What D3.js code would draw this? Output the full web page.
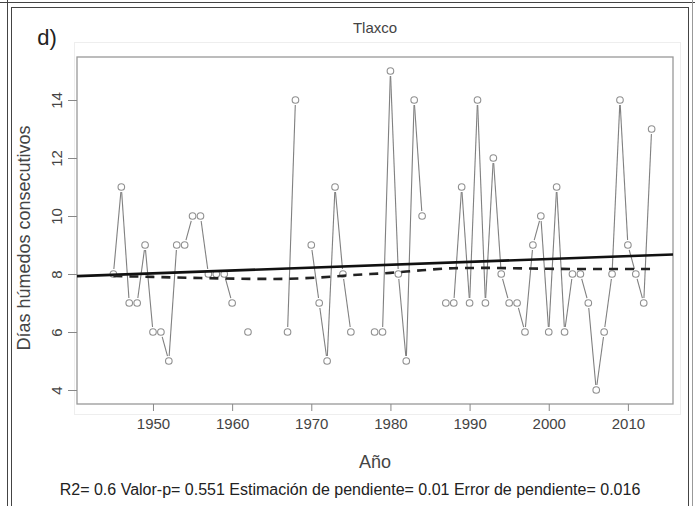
<!DOCTYPE html>
<html>
<head>
<meta charset="utf-8">
<script src="https://cdn.jsdelivr.net/npm/d3@7"></script>
<style>
  body { margin: 0; background: #fff; }
  svg { display: block; font-family: "Liberation Sans", Arial, sans-serif; }
</style>
</head>
<body>
<div id="chart"></div>
<script>
// Tlaxco - dias humedos consecutivos por anio (null = sin dato)
var years = [1945, 1946, 1947, 1948, 1949, 1950, 1951, 1952, 1953, 1954,
             1955, 1956, 1957, 1958, 1959, 1960, 1961, 1962, 1963, 1964,
             1965, 1966, 1967, 1968, 1969, 1970, 1971, 1972, 1973, 1974,
             1975, 1976, 1977, 1978, 1979, 1980, 1981, 1982, 1983, 1984,
             1985, 1986, 1987, 1988, 1989, 1990, 1991, 1992, 1993, 1994,
             1995, 1996, 1997, 1998, 1999, 2000, 2001, 2002, 2003, 2004,
             2005, 2006, 2007, 2008, 2009, 2010, 2011, 2012, 2013];
var dias = [8, 11, 7, 7, 9, 6, 6, 5, 9, 9,
            10, 10, 8, 8, 8, 7, null, 6, null, null,
            null, null, 6, 14, null, 9, 7, 5, 11, 8,
            6, null, null, 6, 6, 15, 8, 5, 14, 10,
            null, null, 7, 7, 11, 7, 14, 7, 12, 8,
            7, 7, 6, 9, 10, 6, 11, 6, 8, 8,
            7, 4, 6, 8, 14, 9, 8, 7, 13];

// suavizado (linea discontinua)
var suaveYears = [1945, 1950, 1956, 1965, 1971, 1975, 1980, 1984, 1988, 1992, 2000, 2006, 2013];
var suaveVals  = [7.93, 7.90, 7.86, 7.83, 7.88, 7.96, 8.04, 8.13, 8.20, 8.21, 8.18, 8.17, 8.17];

var xTicks = [1950, 1960, 1970, 1980, 1990, 2000, 2010];
var yTicks = [4, 6, 8, 10, 12, 14];

var titulo = "Tlaxco";
var etiqueta = "d)";
var xLabel = "A\u00f1o";
var yLabel = "D\u00edas h\u00famedos consecutivos";
var stats = "R2= 0.6 Valor-p= 0.551 Estimaci\u00f3n de pendiente= 0.01 Error de pendiente= 0.016";

var W = 695, H = 506;
var box = {left: 77, right: 673, top: 57, bottom: 404};

var svg = d3.select("#chart").append("svg")
    .attr("width", W)
    .attr("height", H);

svg.append("rect").attr("width", W).attr("height", H).attr("fill", "#fff");

// table cell borders
var bc = "#444";
svg.append("line").attr("x1", 0).attr("x2", W).attr("y1", 2.5).attr("y2", 2.5).attr("stroke", bc);
svg.append("line").attr("x1", 11).attr("x2", 689).attr("y1", 7.5).attr("y2", 7.5).attr("stroke", bc);
svg.append("line").attr("x1", 7.5).attr("x2", 7.5).attr("y1", 0).attr("y2", H).attr("stroke", bc);
svg.append("line").attr("x1", 11.5).attr("x2", 11.5).attr("y1", 7).attr("y2", H).attr("stroke", bc);
svg.append("line").attr("x1", 688.5).attr("x2", 688.5).attr("y1", 7).attr("y2", H).attr("stroke", bc);
svg.append("line").attr("x1", 692.5).attr("x2", 692.5).attr("y1", 0).attr("y2", H).attr("stroke", "#999");

var x = d3.scaleLinear().domain([1940.4, 2015.7]).range([box.left, box.right]);
var y = d3.scaleLinear().domain([4, 14]).range([390, 100]);

var data = years.map(function(d, i) { return {year: d, val: dias[i]}; });
var pts = data.filter(function(d) { return d.val != null; });

// faint frame of the embedded figure
svg.append("rect")
    .attr("x", 74.5).attr("y", 42.5).attr("width", 606).attr("height", 372)
    .attr("fill", "none").attr("stroke", "#eee");

// plot box
svg.append("rect")
    .attr("x", box.left).attr("y", box.top)
    .attr("width", box.right - box.left).attr("height", box.bottom - box.top)
    .attr("fill", "none").attr("stroke", "#999").attr("stroke-width", 1.3);

// axes
var xAxis = d3.axisBottom(x).tickValues(xTicks).tickFormat(d3.format("d")).tickSize(7).tickPadding(7);
var gx = svg.append("g").attr("transform", "translate(0," + box.bottom + ")").call(xAxis);
gx.select(".domain").remove();
gx.selectAll("line").attr("stroke", "#888");
gx.selectAll("text").attr("fill", "#444").style("font-size", "15px");

var yAxis = d3.axisLeft(y).tickValues(yTicks).tickSize(9).tickPadding(4);
var gy = svg.append("g").attr("transform", "translate(" + box.left + ",0)").call(yAxis);
gy.select(".domain").remove();
gy.selectAll("line").attr("stroke", "#888");
gy.selectAll("text")
    .attr("fill", "#444").style("font-size", "15px")
    .attr("x", null).attr("dy", null)
    .attr("text-anchor", "middle")
    .attr("transform", "translate(-20,0) rotate(-90)")
    .attr("dy", "0.35em");

// series line, type "b": segments shortened around points
var r = 3.3, gap = 5;
var segs = [];
for (var i = 1; i < data.length; i++) {
    if (data[i].val == null || data[i - 1].val == null) continue;
    var x1 = x(data[i - 1].year), y1 = y(data[i - 1].val);
    var x2 = x(data[i].year), y2 = y(data[i].val);
    var len = Math.hypot(x2 - x1, y2 - y1);
    if (len <= 2 * gap) continue;
    var ux = (x2 - x1) / len, uy = (y2 - y1) / len;
    segs.push([x1 + ux * gap, y1 + uy * gap, x2 - ux * gap, y2 - uy * gap]);
}
svg.append("g").selectAll("line").data(segs).enter().append("line")
    .attr("x1", function(d) { return d[0]; })
    .attr("y1", function(d) { return d[1]; })
    .attr("x2", function(d) { return d[2]; })
    .attr("y2", function(d) { return d[3]; })
    .attr("stroke", "#808080").attr("stroke-width", 1.1);

svg.append("g").selectAll("circle").data(pts).enter().append("circle")
    .attr("cx", function(d) { return x(d.year); })
    .attr("cy", function(d) { return y(d.val); })
    .attr("r", r)
    .attr("fill", "none").attr("stroke", "#909090").attr("stroke-width", 1.1);

// least squares trend
var mx = d3.mean(pts, function(d) { return d.year; });
var my = d3.mean(pts, function(d) { return d.val; });
var sxy = d3.sum(pts, function(d) { return (d.year - mx) * (d.val - my); });
var sxx = d3.sum(pts, function(d) { return (d.year - mx) * (d.year - mx); });
var b = sxy / sxx, a = my - b * mx;
var xd = x.domain();
svg.append("line")
    .attr("x1", x(xd[0])).attr("y1", y(a + b * xd[0]))
    .attr("x2", x(xd[1])).attr("y2", y(a + b * xd[1]))
    .attr("stroke", "#111").attr("stroke-width", 2.6);

// smoothed dashed curve
var suave = suaveYears.map(function(d, i) { return [d, suaveVals[i]]; });
svg.append("path")
    .datum(suave)
    .attr("d", d3.line().x(function(d) { return x(d[0]); }).y(function(d) { return y(d[1]); }).curve(d3.curveMonotoneX))
    .attr("fill", "none").attr("stroke", "#222").attr("stroke-width", 2.6)
    .attr("stroke-dasharray", "9,7");

// texts
svg.append("text").attr("x", 47).attr("y", 45).attr("text-anchor", "middle")
    .style("font-size", "22px").attr("fill", "#222").text(etiqueta);
svg.append("text").attr("x", (box.left + box.right) / 2).attr("y", 33).attr("text-anchor", "middle")
    .style("font-size", "15px").attr("fill", "#444").text(titulo);
svg.append("text").attr("x", (box.left + box.right) / 2).attr("y", 468).attr("text-anchor", "middle")
    .style("font-size", "18px").attr("fill", "#444").text(xLabel);
svg.append("text").attr("transform", "translate(30,238) rotate(-90)").attr("text-anchor", "middle")
    .style("font-size", "18px").attr("fill", "#444").text(yLabel);
svg.append("text").attr("x", 350).attr("y", 495).attr("text-anchor", "middle")
    .style("font-size", "16px").attr("fill", "#222").text(stats);
</script>
</body>
</html>
